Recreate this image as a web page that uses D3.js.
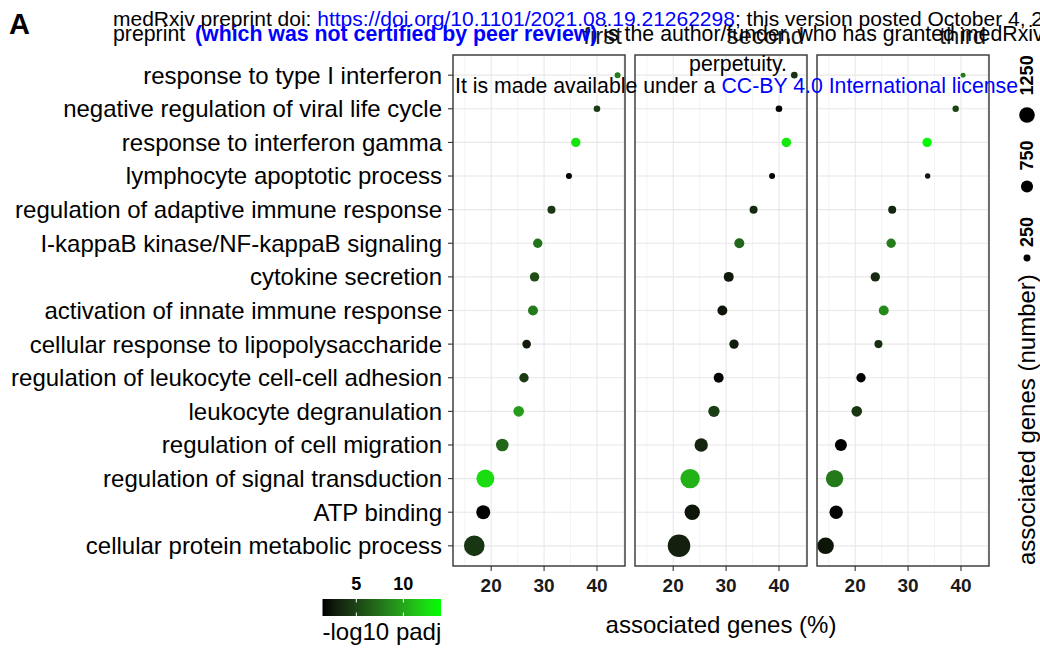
<!DOCTYPE html>
<html>
<head>
<meta charset="utf-8">
<script src="https://cdn.jsdelivr.net/npm/d3@7"></script>
<style>
  body { margin: 0; background: #fff; }
  svg { display: block; font-family: "Liberation Sans", Arial, sans-serif; }
</style>
</head>
<body>
<svg width="1040" height="648"></svg>
<script>
const terms = [
  "response to type I interferon",
  "negative regulation of viral life cycle",
  "response to interferon gamma",
  "lymphocyte apoptotic process",
  "regulation of adaptive immune response",
  "I-kappaB kinase/NF-kappaB signaling",
  "cytokine secretion",
  "activation of innate immune response",
  "cellular response to lipopolysaccharide",
  "regulation of leukocyte cell-cell adhesion",
  "leukocyte degranulation",
  "regulation of cell migration",
  "regulation of signal transduction",
  "ATP binding",
  "cellular protein metabolic process"
];
const panels = ["first", "second", "third"];

// associated genes (%)
const pctFirst  = [43.9, 40.0, 36.0, 34.7, 31.4, 28.8, 28.2, 27.9, 26.7, 26.2, 25.2, 22.1, 18.9, 18.5, 16.8];
const pctSecond = [42.9, 40.0, 41.4, 38.7, 35.2, 32.5, 30.5, 29.3, 31.5, 28.6, 27.7, 25.3, 23.2, 23.6, 21.1];
const pctThird  = [40.4, 39.0, 33.6, 33.7, 27.0, 26.8, 23.8, 25.4, 24.4, 21.1, 20.3, 17.3, 16.1, 16.4, 14.4];

// associated genes (number)
const genesFirst  = [180, 225, 450, 185, 330, 450, 450, 510, 380, 450, 580, 815, 1660, 1000, 2180];
const genesSecond = [225, 225, 470, 185, 330, 510, 510, 510, 450, 510, 660, 920, 1930, 1215, 2620];
const genesThird  = [128, 210, 450, 150, 330, 450, 450, 510, 330, 450, 580, 740, 1550, 920, 1410];

// -log10 padj
const padjFirst  = [8.0, 4.5, 12.8, 1.6, 4.3, 7.5, 5.5, 7.8, 2.6, 4.5, 9.5, 6.8, 12.5, 1.5, 4.2];
const padjSecond = [4.0, 1.5, 13.0, 1.6, 3.5, 6.8, 2.5, 2.2, 2.8, 1.6, 4.6, 3.2, 10.5, 2.3, 2.9];
const padjThird  = [8.0, 5.0, 13.8, 2.5, 3.3, 8.0, 3.6, 8.5, 3.7, 1.5, 4.2, 1.4, 7.8, 1.6, 2.2];

const xTicks = [20, 30, 40];
const xMinorTicks = [15, 25, 35, 45];
const sizeBreaks = [250, 750, 1250];
const colorTicks = [5, 10];

const pctByPanel = [pctFirst, pctSecond, pctThird];
const genesByPanel = [genesFirst, genesSecond, genesThird];
const padjByPanel = [padjFirst, padjSecond, padjThird];

const svg = d3.select("svg");

const panelLeft = 453, panelW = 172, panelGap = 10;
const panelTop = 55, panelBottom = 566;

const x = d3.scaleLinear().domain([12.78, 45.3]).range([0, panelW]);
const y = d3.scalePoint().domain(terms).range([panelTop, panelBottom]).padding(0.6);
const size = d3.scaleSqrt().domain([0, 1250]).range([0, 7.8]);
const color = d3.scaleLinear().domain([1.4, 14]).range(["#000000", "#00ff00"]).interpolate(d3.interpolateLab);

// y axis labels
svg.append("g")
  .selectAll("text")
  .data(terms)
  .join("text")
  .attr("x", panelLeft - 11)
  .attr("y", d => y(d))
  .attr("dy", "0.35em")
  .attr("text-anchor", "end")
  .attr("font-size", 24)
  .attr("fill", "#000")
  .text(d => d);

svg.append("g")
  .selectAll("line")
  .data(terms)
  .join("line")
  .attr("x1", panelLeft - 5).attr("x2", panelLeft)
  .attr("y1", d => y(d)).attr("y2", d => y(d))
  .attr("stroke", "#333").attr("stroke-width", 1.1);

panels.forEach((name, p) => {
  const px = panelLeft + p * (panelW + panelGap);
  const g = svg.append("g").attr("transform", `translate(${px},0)`);

  g.append("clipPath").attr("id", "clip" + p)
    .append("rect")
    .attr("x", 0).attr("y", panelTop)
    .attr("width", panelW).attr("height", panelBottom - panelTop);

  // grid
  g.selectAll(".minor")
    .data(xMinorTicks)
    .join("line")
    .attr("x1", d => x(d)).attr("x2", d => x(d))
    .attr("y1", panelTop).attr("y2", panelBottom)
    .attr("stroke", "#f0f0f0").attr("stroke-width", 0.8);
  g.selectAll(".major")
    .data(xTicks)
    .join("line")
    .attr("x1", d => x(d)).attr("x2", d => x(d))
    .attr("y1", panelTop).attr("y2", panelBottom)
    .attr("stroke", "#e8e8e8").attr("stroke-width", 1.1);
  g.selectAll(".hgrid")
    .data(terms)
    .join("line")
    .attr("x1", 0).attr("x2", panelW)
    .attr("y1", d => y(d)).attr("y2", d => y(d))
    .attr("stroke", "#e8e8e8").attr("stroke-width", 1.1);

  // points
  const rows = terms.map((t, i) => ({
    term: t,
    pct: pctByPanel[p][i],
    genes: genesByPanel[p][i],
    padj: padjByPanel[p][i]
  }));
  g.append("g")
    .attr("clip-path", `url(#clip${p})`)
    .selectAll("circle")
    .data(rows)
    .join("circle")
    .attr("cx", d => x(d.pct))
    .attr("cy", d => y(d.term))
    .attr("r", d => size(d.genes))
    .attr("fill", d => color(d.padj));

  // border
  g.append("rect")
    .attr("x", 0).attr("y", panelTop)
    .attr("width", panelW).attr("height", panelBottom - panelTop)
    .attr("fill", "none").attr("stroke", "#333").attr("stroke-width", 1.4);

  // x axis
  g.selectAll(".xt")
    .data(xTicks)
    .join("line")
    .attr("x1", d => x(d)).attr("x2", d => x(d))
    .attr("y1", panelBottom).attr("y2", panelBottom + 5)
    .attr("stroke", "#333").attr("stroke-width", 1.1);
  g.selectAll(".xl")
    .data(xTicks)
    .join("text")
    .attr("x", d => x(d))
    .attr("y", panelBottom + 26)
    .attr("text-anchor", "middle")
    .attr("font-size", 19)
    .attr("font-weight", "bold")
    .attr("fill", "#1a1a1a")
    .text(d => d);

  // strip label
  g.append("text")
    .attr("x", panelW - 3)
    .attr("y", 44)
    .attr("text-anchor", "end")
    .attr("font-size", 24)
    .attr("fill", "#1a1a1a")
    .text(name);
});

// x axis title
svg.append("text")
  .attr("x", panelLeft + (3 * panelW + 2 * panelGap) / 2)
  .attr("y", 633)
  .attr("text-anchor", "middle")
  .attr("font-size", 24)
  .attr("fill", "#000")
  .text("associated genes (%)");

// colour bar legend
const cbLeft = 322.5, cbRight = 441, cbTop = 599, cbBottom = 616;
const cx = d3.scaleLinear().domain(color.domain()).range([cbLeft, cbRight]);
const grad = svg.append("defs").append("linearGradient")
  .attr("id", "cbar").attr("x1", "0%").attr("x2", "100%");
d3.range(0, 1.0001, 0.1).forEach(t => {
  grad.append("stop")
    .attr("offset", (t * 100) + "%")
    .attr("stop-color", color(color.domain()[0] + t * (color.domain()[1] - color.domain()[0])));
});
svg.append("rect")
  .attr("x", cbLeft).attr("y", cbTop)
  .attr("width", cbRight - cbLeft).attr("height", cbBottom - cbTop)
  .attr("fill", "url(#cbar)");
colorTicks.forEach(v => {
  svg.append("line").attr("x1", cx(v)).attr("x2", cx(v))
    .attr("y1", cbTop).attr("y2", cbTop + 3.5)
    .attr("stroke", "#fff").attr("stroke-width", 1);
  svg.append("line").attr("x1", cx(v)).attr("x2", cx(v))
    .attr("y1", cbBottom - 3.5).attr("y2", cbBottom)
    .attr("stroke", "#fff").attr("stroke-width", 1);
});
svg.append("g")
  .selectAll("text")
  .data(colorTicks)
  .join("text")
  .attr("x", d => cx(d))
  .attr("y", 590)
  .attr("text-anchor", "middle")
  .attr("font-size", 18)
  .attr("font-weight", "bold")
  .attr("fill", "#000")
  .text(d => d);
svg.append("text")
  .attr("x", cbLeft)
  .attr("y", 640)
  .attr("font-size", 24)
  .attr("fill", "#000")
  .text("-log10 padj");

// size legend (rotated)
const legX = 1027;
const keyY = d3.scalePoint().domain(sizeBreaks).range([258, 115]);
const sizeLeg = svg.append("g");
sizeLeg.selectAll("circle")
  .data(sizeBreaks)
  .join("circle")
  .attr("cx", legX)
  .attr("cy", d => keyY(d))
  .attr("r", d => size(d))
  .attr("fill", "#000");
sizeLeg.selectAll("text")
  .data(sizeBreaks)
  .join("text")
  .attr("transform", d => `translate(${legX},${keyY(d) - 2 * size(d) - 4}) rotate(-90)`)
  .attr("dy", "0.35em")
  .attr("font-size", 18)
  .attr("font-weight", "bold")
  .attr("fill", "#000")
  .text(d => d);
svg.append("text")
  .attr("transform", `translate(${legX},565) rotate(-90)`)
  .attr("dy", "0.35em")
  .attr("font-size", 24)
  .attr("fill", "#000")
  .text("associated genes (number)");

// panel tag
svg.append("text")
  .attr("x", 9).attr("y", 34)
  .attr("font-size", 29)
  .attr("font-weight", "bold")
  .text("A");

// medRxiv header overlay
const wm = svg.append("g").attr("fill", "#000");
const l1 = wm.append("text").attr("x", 113).attr("y", 26).attr("font-size", 21);
l1.append("tspan").text("medRxiv preprint doi: ");
l1.append("tspan").attr("fill", "#0000ff").text("https://doi.org/10.1101/2021.08.19.21262298");
l1.append("tspan").text("; this version posted October 4, 2021. The copyright holder for this");
const l2 = wm.append("text").attr("x", 113).attr("y", 41).attr("font-size", 21.3);
l2.append("tspan").text("preprint");
l2.append("tspan").attr("x", 195).attr("fill", "#0000ff").attr("font-weight", "bold")
  .text("(which was not certified by peer review)");
l2.append("tspan").text(" is the author/funder, who has granted medRxiv a license to display the preprint in");
wm.append("text").attr("x", 738).attr("y", 71).attr("text-anchor", "middle")
  .attr("font-size", 21.3).text("perpetuity.");
const l4 = wm.append("text").attr("x", 455).attr("y", 93).attr("font-size", 21.3);
l4.append("tspan").text("It is made available under a ");
l4.append("tspan").attr("fill", "#0000ff").text("CC-BY 4.0 International license");
</script>
</body>
</html>
